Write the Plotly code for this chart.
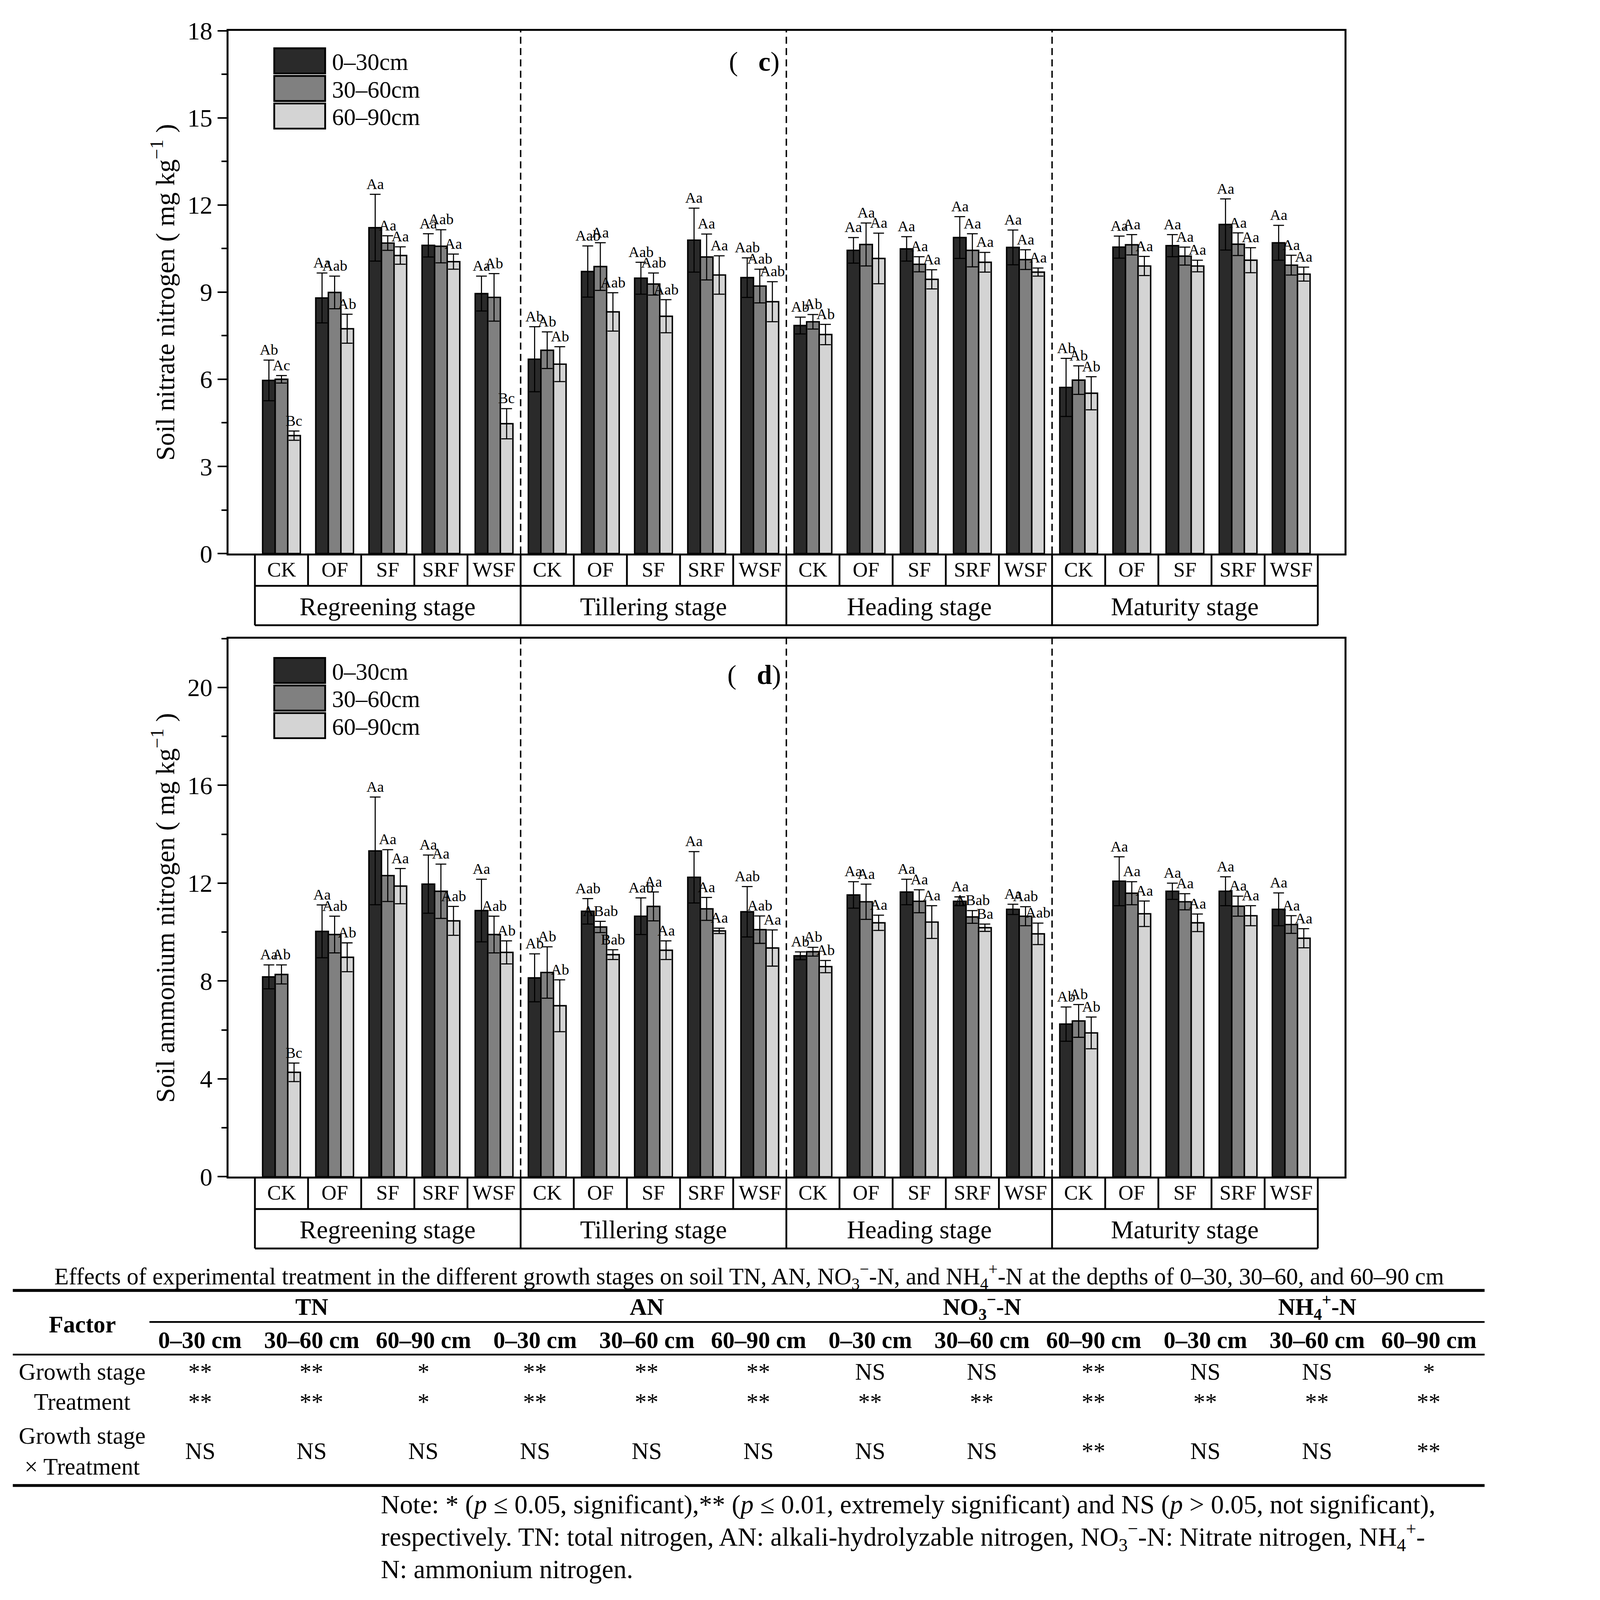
import plotly.graph_objects as go

# reference pixel grid used for placement; the whole figure is drawn uniformly scaled by S
W, H = 4174, 4437
S = 0.918
FONT = "Liberation Serif"

# ---------------- data ----------------
stages = ["Regreening stage", "Tillering stage", "Heading stage", "Maturity stage"]
treatments = ["CK", "OF", "SF", "SRF", "WSF"]
depths = ["0–30cm", "30–60cm", "60–90cm"]
colors = ["#2a2a2a", "#808080", "#d4d4d4"]

# panel (c): soil nitrate nitrogen, 4 stages x 5 treatments
no3_d1 = [5.96, 8.80, 11.22, 10.61, 8.95, 6.69, 9.71, 9.48, 10.79, 9.50,
          7.85, 10.44, 10.49, 10.88, 10.54, 5.72, 10.55, 10.60, 11.33, 10.70]
no3_d1_err = [0.70, 0.86, 1.15, 0.40, 0.60, 1.12, 0.88, 0.55, 1.10, 0.68,
              0.29, 0.44, 0.42, 0.72, 0.60, 1.00, 0.38, 0.38, 0.88, 0.60]
no3_d2 = [6.00, 8.99, 10.69, 10.58, 8.82, 7.00, 9.88, 9.28, 10.21, 9.21,
          7.98, 10.64, 9.96, 10.44, 10.12, 5.97, 10.63, 10.24, 10.65, 9.93]
no3_d2_err = [0.13, 0.56, 0.25, 0.57, 0.82, 0.63, 0.82, 0.38, 0.79, 0.58,
              0.25, 0.74, 0.26, 0.57, 0.34, 0.49, 0.35, 0.31, 0.39, 0.34]
no3_d3 = [4.06, 7.74, 10.26, 10.05, 4.47, 6.52, 8.32, 8.17, 9.59, 8.67,
          7.54, 10.16, 9.44, 10.03, 9.69, 5.52, 9.90, 9.90, 10.10, 9.62]
no3_d3_err = [0.16, 0.50, 0.30, 0.26, 0.52, 0.60, 0.66, 0.57, 0.66, 0.69,
              0.35, 0.87, 0.33, 0.34, 0.14, 0.57, 0.33, 0.20, 0.43, 0.24]
no3_d1_sig = ["Ab", "Aa", "Aa", "Aa", "Aa", "Ab", "Aab", "Aab", "Aa", "Aab",
              "Ab", "Aa", "Aa", "Aa", "Aa", "Ab", "Aa", "Aa", "Aa", "Aa"]
no3_d2_sig = ["Ac", "Aab", "Aa", "Aab", "Ab", "Ab", "Aa", "Aab", "Aa", "Aab",
              "Ab", "Aa", "Aa", "Aa", "Aa", "Ab", "Aa", "Aa", "Aa", "Aa"]
no3_d3_sig = ["Bc", "Ab", "Aa", "Aa", "Bc", "Ab", "Aab", "Aab", "Aa", "Aab",
              "Ab", "Aa", "Aa", "Aa", "Aa", "Ab", "Aa", "Aa", "Aa", "Aa"]

# panel (d): soil ammonium nitrogen
nh4_d1 = [8.17, 10.03, 13.32, 11.96, 10.88, 8.13, 10.85, 10.65, 12.24, 10.83,
          9.03, 11.52, 11.64, 11.26, 10.93, 6.24, 12.08, 11.67, 11.67, 10.93]
nh4_d1_err = [0.49, 1.08, 2.20, 1.19, 1.28, 0.98, 0.52, 0.75, 1.05, 1.03,
              0.16, 0.54, 0.52, 0.18, 0.21, 0.70, 1.00, 0.33, 0.59, 0.67]
nh4_d2 = [8.27, 9.90, 12.31, 11.67, 9.90, 8.35, 10.21, 11.05, 10.95, 10.10,
          9.20, 11.24, 11.26, 10.62, 10.65, 6.37, 11.59, 11.24, 11.06, 10.31]
nh4_d2_err = [0.39, 0.75, 1.06, 1.11, 0.75, 1.05, 0.23, 0.59, 0.47, 0.56,
              0.18, 0.72, 0.47, 0.26, 0.39, 0.67, 0.47, 0.33, 0.41, 0.36]
nh4_d3 = [4.27, 8.97, 11.88, 10.46, 9.17, 6.99, 9.08, 9.26, 10.05, 9.35,
          8.59, 10.38, 10.41, 10.18, 9.93, 5.88, 10.75, 10.38, 10.67, 9.75]
nh4_d3_err = [0.38, 0.59, 0.72, 0.59, 0.47, 1.06, 0.20, 0.38, 0.11, 0.74,
              0.25, 0.31, 0.67, 0.15, 0.44, 0.65, 0.52, 0.36, 0.41, 0.39]
nh4_d1_sig = ["Aa", "Aa", "Aa", "Aa", "Aa", "Ab", "Aab", "Aab", "Aa", "Aab",
              "Ab", "Aa", "Aa", "Aa", "Aa", "Ab", "Aa", "Aa", "Aa", "Aa"]
nh4_d2_sig = ["Ab", "Aab", "Aa", "Aa", "Aab", "Ab", "ABab", "Aa", "Aa", "Aab",
              "Ab", "Aa", "Aa", "ABab", "Aab", "Ab", "Aa", "Aa", "Aa", "Aa"]
nh4_d3_sig = ["Bc", "Ab", "Aa", "Aab", "Ab", "Ab", "Bab", "Aa", "Aa", "Aa",
              "Ab", "Aa", "Aa", "Ba", "Aab", "Ab", "Aa", "Aa", "Aa", "Aa"]

# table
table_title = ("Effects of experimental treatment in the different growth stages on soil TN, AN, "
               "NO<sub>3</sub><sup>−</sup>-N, and NH<sub>4</sub><sup>+</sup>-N at the depths of "
               "0–30, 30–60, and 60–90 cm")
table_groups = ["TN", "AN", "NO<sub>3</sub><sup>−</sup>-N", "NH<sub>4</sub><sup>+</sup>-N"]
table_depths = ["0–30 cm", "30–60 cm", "60–90 cm"]
table_factors = ["Growth stage", "Treatment", "Growth stage<br>× Treatment"]
row_growth = ["**", "**", "*", "**", "**", "**", "NS", "NS", "**", "NS", "NS", "*"]
row_treat = ["**", "**", "*", "**", "**", "**", "**", "**", "**", "**", "**", "**"]
row_inter = ["NS", "NS", "NS", "NS", "NS", "NS", "NS", "NS", "**", "NS", "NS", "**"]
note_lines = [
    "Note: * (<i>p</i> ≤ 0.05, significant),** (<i>p</i> ≤ 0.01, extremely significant) and NS (<i>p</i> > 0.05, not significant),",
    "respectively. TN: total nitrogen, AN: alkali-hydrolyzable nitrogen, NO<sub>3</sub><sup>−</sup>-N: Nitrate nitrogen, NH<sub>4</sub><sup>+</sup>-",
    "N: ammonium nitrogen.",
]


def fx(p):
    return p / W


def fy(p):
    return 1 - p / H


def z(v):
    return v * S


def txt(x, y, text, size, xanchor="center", yanchor="middle", **kw):
    d = dict(x=x, y=y, xref="paper", yref="paper", text=text, showarrow=False,
             xanchor=xanchor, yanchor=yanchor,
             font=dict(family=FONT, size=z(size), color="black"))
    d.update(kw)
    return d


n_cat = len(stages) * len(treatments)
pos = list(range(n_cat))
bargap = 0.29
bw = (1 - bargap) / 3
dash_pat = "%dpx,%dpx" % (round(z(20)), round(z(12)))

panels = [
    dict(x="x", y="y", yrange=[0, 18], dtick=3, minor=1.5, top=77, bottom=1535,
         ytitle="Soil nitrate nitrogen ( mg kg<sup>−1</sup> )", tag="c",
         vals=[no3_d1, no3_d2, no3_d3], errs=[no3_d1_err, no3_d2_err, no3_d3_err],
         sigs=[no3_d1_sig, no3_d2_sig, no3_d3_sig], legend_top=126, tag_y=163),
    dict(x="x2", y="y2", yrange=[0, 22], dtick=4, minor=2, top=1772, bottom=3273,
         ytitle="Soil ammonium nitrogen ( mg kg<sup>−1</sup> )", tag="d",
         vals=[nh4_d1, nh4_d2, nh4_d3], errs=[nh4_d1_err, nh4_d2_err, nh4_d3_err],
         sigs=[nh4_d1_sig, nh4_d2_sig, nh4_d3_sig], legend_top=1826, tag_y=1873),
]

fig = go.Figure()
shapes = []
annos = []
layout_axes = {}

for pi, p in enumerate(panels):
    xa = "xaxis" if pi == 0 else "xaxis2"
    ya = "yaxis" if pi == 0 else "yaxis2"
    for d in range(3):
        fig.add_trace(go.Bar(
            x=pos, y=p["vals"][d], name=depths[d], xaxis=p["x"], yaxis=p["y"],
            marker=dict(color=colors[d], line=dict(color="black", width=z(4))),
            error_y=dict(type="data", array=p["errs"][d], visible=True,
                         color="black", thickness=z(3), width=z(15)),
            showlegend=False))
        for i in range(n_cat):
            annos.append(dict(
                x=i + (d - 1) * bw, y=p["vals"][d][i] + p["errs"][d][i],
                xref=p["x"], yref=p["y"], text=p["sigs"][d][i], showarrow=False,
                yanchor="bottom", xanchor="center", yshift=z(4),
                font=dict(family=FONT, size=z(42), color="black")))
    ymax = p["yrange"][1]
    layout_axes[xa] = dict(domain=[fx(628), fx(3740)], range=[-1, n_cat],
                           showticklabels=False, ticks="", showgrid=False, zeroline=False,
                           showline=True, mirror=True, linewidth=z(5), linecolor="black",
                           anchor=p["y"], automargin=False)
    layout_axes[ya] = dict(domain=[fy(p["bottom"]), fy(p["top"])], range=p["yrange"],
                           tickmode="linear", tick0=0, dtick=p["dtick"],
                           ticks="outside", ticklen=z(25), tickwidth=z(4), tickcolor="black",
                           minor=dict(ticks="outside", ticklen=z(14), tickwidth=z(4),
                                      tickcolor="black", dtick=p["minor"], tick0=0,
                                      showgrid=False),
                           showgrid=False, zeroline=False, showline=True, mirror=True,
                           linewidth=z(5), linecolor="black", anchor=p["x"], automargin=False,
                           tickfont=dict(family=FONT, size=z(70), color="black"))
    # dashed stage separators
    for s in range(1, len(stages)):
        xb = s * len(treatments) - 0.5
        shapes.append(dict(type="line", xref=p["x"], yref=p["y"], x0=xb, x1=xb,
                           y0=0, y1=ymax, line=dict(color="black", width=z(4), dash=dash_pat)))
    # category boxes below axis
    yb = p["bottom"]
    r1 = yb + 90
    r2 = yb + 200
    for k in range(n_cat + 1):
        xb = k - 0.5
        bottom = r2 if k % len(treatments) == 0 else r1
        shapes.append(dict(type="line", xref=p["x"], yref="paper", x0=xb, x1=xb,
                           y0=fy(yb), y1=fy(bottom), line=dict(color="black", width=z(5))))
    for yy in (r1, r2):
        shapes.append(dict(type="line", xref=p["x"], yref="paper", x0=-0.5, x1=n_cat - 0.5,
                           y0=fy(yy), y1=fy(yy), line=dict(color="black", width=z(5))))
    for i in range(n_cat):
        annos.append(dict(x=i, y=fy((yb + r1) / 2), xref=p["x"], yref="paper",
                          text=treatments[i % len(treatments)], showarrow=False,
                          xanchor="center", yanchor="middle",
                          font=dict(family=FONT, size=z(58), color="black")))
    for s, st in enumerate(stages):
        annos.append(dict(x=s * len(treatments) + (len(treatments) - 1) / 2,
                          y=fy((r1 + r2) / 2 + 3), xref=p["x"], yref="paper", text=st,
                          showarrow=False, xanchor="center", yanchor="middle",
                          font=dict(family=FONT, size=z(71), color="black")))
    # y title
    annos.append(txt(fx(447), fy((p["top"] + p["bottom"]) / 2), p["ytitle"], 74, textangle=-90))
    # panel tag
    annos.append(txt(fx(2095), fy(p["tag_y"]), "(   <b>" + p["tag"] + "</b>)", 76))
    # legend
    for d in range(3):
        t0 = p["legend_top"] + d * 77
        shapes.append(dict(type="rect", xref="paper", yref="paper",
                           x0=fx(756), x1=fx(898), y0=fy(t0 + 70), y1=fy(t0),
                           fillcolor=colors[d], line=dict(color="black", width=z(5))))
        annos.append(txt(fx(915), fy(t0 + 38), depths[d], 66, xanchor="left"))

# ---------------- table ----------------
TS = 66
annos.append(txt(fx(2081), fy(3551), table_title, 66))
for yy, wdt, x0 in ((3590, 8, 27), (3678, 5, 408), (3769, 5, 27), (4134, 8, 27)):
    shapes.append(dict(type="line", xref="paper", yref="paper", x0=fx(x0), x1=fx(4131),
                       y0=fy(yy), y1=fy(yy), line=dict(color="black", width=z(wdt))))
col_x = [549 + i * 311.5 for i in range(12)]
annos.append(txt(fx(221), fy(3685), "<b>Factor</b>", TS))
for g, name in enumerate(table_groups):
    cx = sum(col_x[g * 3:g * 3 + 3]) / 3
    annos.append(txt(fx(cx), fy(3636), "<b>" + name + "</b>", TS))
for c in range(12):
    annos.append(txt(fx(col_x[c]), fy(3728), "<b>" + table_depths[c % 3] + "</b>", TS))
row_y = [3817, 3900, 4038]
for r, (fac, row) in enumerate(zip(table_factors, [row_growth, row_treat, row_inter])):
    annos.append(txt(fx(221), fy(row_y[r]), fac, TS, align="center"))
    for c in range(12):
        annos.append(txt(fx(col_x[c]), fy(row_y[r]), row[c], TS))
for k, line in enumerate(note_lines):
    annos.append(txt(fx(1051), fy(4187 + k * 90), line, 73, xanchor="left"))

fig.update_layout(
    template="none",
    width=round(W * S), height=round(H * S), autosize=False,
    margin=dict(l=0, r=0, t=0, b=0, pad=0),
    paper_bgcolor="white", plot_bgcolor="white",
    barmode="group", bargap=bargap, bargroupgap=0,
    shapes=shapes, annotations=annos, showlegend=False,
    font=dict(family=FONT, color="black"),
    **layout_axes,
)

fig.write_html("out.html")
